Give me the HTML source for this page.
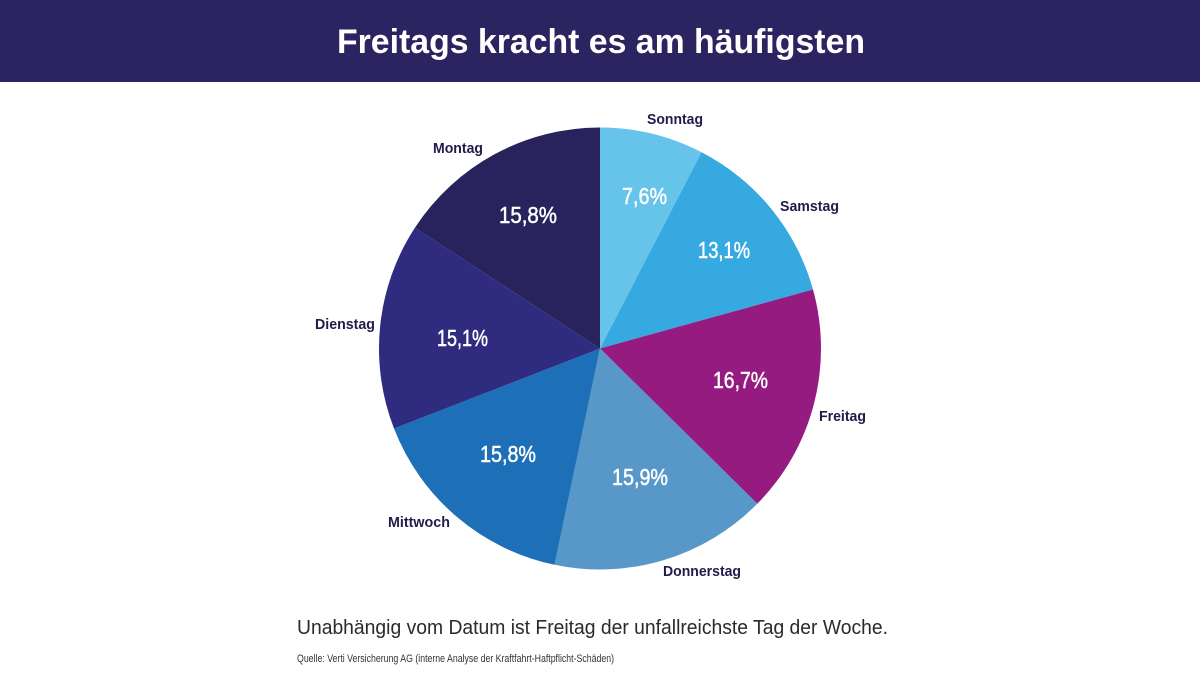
<!DOCTYPE html>
<html>
<head>
<meta charset="utf-8">
<style>
  html, body { margin: 0; padding: 0; background: #ffffff; }
  body { width: 1200px; height: 675px; overflow: hidden; }
  svg { display: block; }
  text { font-family: "Liberation Sans", "DejaVu Sans", sans-serif; }
</style>
</head>
<body>
<svg width="1200" height="675" viewBox="0 0 1200 675" xmlns="http://www.w3.org/2000/svg">
  <rect x="0" y="0" width="1200" height="675" fill="#ffffff"/>
  <!-- Header -->
  <rect x="0" y="0" width="1200" height="82" fill="#2b2460"/>
  <text x="337" y="53" font-size="34" font-weight="bold" fill="#ffffff" textLength="528" lengthAdjust="spacingAndGlyphs">Freitags kracht es am häufigsten</text>

  <!-- Pie -->
  <g>
    <path d="M600,348.5 L600,127.5 A221,221 0 0,1 701.57,152.22 Z" fill="#66c3ea"/>
    <path d="M600,348.5 L701.57,152.22 A221,221 0 0,1 812.99,289.52 Z" fill="#36a9e0"/>
    <path d="M600,348.5 L812.99,289.52 A221,221 0 0,1 757.26,503.78 Z" fill="#951b80"/>
    <path d="M600,348.5 L757.26,503.78 A221,221 0 0,1 554.51,564.77 Z" fill="#5898c9"/>
    <path d="M600,348.5 L554.51,564.77 A221,221 0 0,1 394.01,428.55 Z" fill="#1d6fb7"/>
    <path d="M600,348.5 L394.01,428.55 A221,221 0 0,1 414.90,227.75 Z" fill="#2f2c80"/>
    <path d="M600,348.5 L414.90,227.75 A221,221 0 0,1 600,127.5 Z" fill="#28235c"/>
  </g>

  <!-- Percent labels -->
  <g fill="#ffffff" stroke="#ffffff" stroke-width="0.5" font-size="23">
    <text x="622" y="204" textLength="45" lengthAdjust="spacingAndGlyphs">7,6%</text>
    <text x="698" y="258" textLength="52" lengthAdjust="spacingAndGlyphs">13,1%</text>
    <text x="713" y="388" textLength="55" lengthAdjust="spacingAndGlyphs">16,7%</text>
    <text x="612" y="485" textLength="56" lengthAdjust="spacingAndGlyphs">15,9%</text>
    <text x="480" y="462" textLength="56" lengthAdjust="spacingAndGlyphs">15,8%</text>
    <text x="437" y="346" textLength="51" lengthAdjust="spacingAndGlyphs">15,1%</text>
    <text x="499" y="223" textLength="58" lengthAdjust="spacingAndGlyphs">15,8%</text>
  </g>

  <!-- Day labels -->
  <g fill="#1f1d4a" font-size="15" font-weight="bold">
    <text x="647" y="124" textLength="56" lengthAdjust="spacingAndGlyphs">Sonntag</text>
    <text x="780" y="211" textLength="59" lengthAdjust="spacingAndGlyphs">Samstag</text>
    <text x="819" y="421" textLength="47" lengthAdjust="spacingAndGlyphs">Freitag</text>
    <text x="663" y="576" textLength="78" lengthAdjust="spacingAndGlyphs">Donnerstag</text>
    <text x="388" y="527" textLength="62" lengthAdjust="spacingAndGlyphs">Mittwoch</text>
    <text x="315" y="329" textLength="60" lengthAdjust="spacingAndGlyphs">Dienstag</text>
    <text x="433" y="153" textLength="50" lengthAdjust="spacingAndGlyphs">Montag</text>
  </g>

  <!-- Footer text -->
  <text x="297" y="634" font-size="20" fill="#2a2a2a" textLength="591" lengthAdjust="spacingAndGlyphs">Unabhängig vom Datum ist Freitag der unfallreichste Tag der Woche.</text>
  <text x="297" y="662" font-size="11" fill="#333333" textLength="317" lengthAdjust="spacingAndGlyphs">Quelle: Verti Versicherung AG (interne Analyse der Kraftfahrt-Haftpflicht-Schäden)</text>
</svg>
</body>
</html>
